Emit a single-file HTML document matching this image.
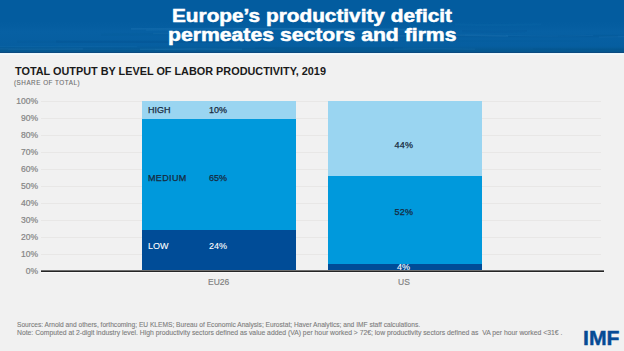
<!DOCTYPE html>
<html><head><meta charset="utf-8">
<style>
*{margin:0;padding:0;box-sizing:border-box}
html,body{width:624px;height:351px;overflow:hidden;background:#f1f1f1;font-family:"Liberation Sans",sans-serif}
.abs{position:absolute;white-space:nowrap}
#hdr{position:absolute;left:0;top:0;width:624px;height:53px;background:linear-gradient(to bottom,#035c9f 0,#035c9f 22px,#0760a3 32px,#065ea0 46px,#05578f 51px)}
#hdrline{position:absolute;left:0;top:52px;width:624px;height:1px;background:#0b4a80}
#hdrlight{position:absolute;left:0;top:53px;width:624px;height:2px;background:linear-gradient(#eaf7fc,#f6f9fa)}
.t1{color:#fff;font-weight:bold;-webkit-text-stroke:0.5px #fff;font-size:18px;line-height:18px;transform-origin:0 0}
#ctitle{left:15px;top:65px;font-size:10.86px;font-weight:bold;color:#1a1a1a}
#csub{left:14px;top:78.5px;font-size:6.3px;color:#6e6e6e;-webkit-text-stroke:0.1px #6e6e6e;letter-spacing:0.52px}
.yl{right:586px;font-size:8.5px;color:#858585;-webkit-text-stroke:0.2px #858585;text-align:right}
.grid{position:absolute;left:41px;width:560px;height:1px;background:#e8e7e6}
#axis{position:absolute;left:41px;top:270px;width:563px;height:2px;background:linear-gradient(#707070 0,#707070 1px,#262626 1px)}
#axisl{position:absolute;left:41px;top:272px;width:563px;height:1px;background:#fafafa}
.seg{position:absolute}
.lab{font-size:9px;color:#172a40;-webkit-text-stroke:0.25px #172a40}
.labw{font-size:9px;color:#fff;-webkit-text-stroke:0.1px #fff}
.xl{font-size:8.5px;color:#808080;-webkit-text-stroke:0.15px #808080}
.foot{left:17px;color:#7c7c7c;-webkit-text-stroke:0.1px #7c7c7c}
#imf{left:583px;top:327px;font-size:20px;font-weight:bold;color:#064b95;-webkit-text-stroke:0.4px #064b95;transform:scaleX(1.06);transform-origin:0 0}
</style></head><body>
<div id="hdr"></div>
<svg id="tex" width="624" height="53" style="position:absolute;left:0;top:0"><path d="M304 30.2 Q363 28.4 423 30.2" stroke="#5fb0e8" stroke-width="1.6" stroke-opacity="0.10" fill="none"/><path d="M255 47.6 Q329 47.8 403 47.6" stroke="#02457e" stroke-width="1.1" stroke-opacity="0.11" fill="none"/><path d="M365 36.4 Q407 36.5 449 36.4" stroke="#02457e" stroke-width="1.7" stroke-opacity="0.12" fill="none"/><path d="M455 24.4 Q498 25.5 541 24.4" stroke="#3d97d6" stroke-width="2.1" stroke-opacity="0.05" fill="none"/><path d="M417 36.3 Q518 35.9 618 36.3" stroke="#02457e" stroke-width="1.8" stroke-opacity="0.12" fill="none"/><path d="M558 35.6 Q658 34.4 759 35.6" stroke="#02457e" stroke-width="0.9" stroke-opacity="0.06" fill="none"/><path d="M357 35.3 Q411 34.7 465 35.3" stroke="#02457e" stroke-width="1.5" stroke-opacity="0.08" fill="none"/><path d="M101 34.6 Q158 33.7 215 34.6" stroke="#02457e" stroke-width="2.1" stroke-opacity="0.05" fill="none"/><path d="M56 41.5 Q155 41.7 254 41.5" stroke="#02457e" stroke-width="2.2" stroke-opacity="0.12" fill="none"/><path d="M361 41.0 Q470 41.0 580 41.0" stroke="#02457e" stroke-width="1.2" stroke-opacity="0.06" fill="none"/><path d="M8 49.7 Q102 48.9 196 49.7" stroke="#3d97d6" stroke-width="1.4" stroke-opacity="0.06" fill="none"/><path d="M-21 46.7 Q58 46.0 137 46.7" stroke="#3d97d6" stroke-width="0.9" stroke-opacity="0.11" fill="none"/><path d="M599 37.1 Q654 35.3 709 37.1" stroke="#5fb0e8" stroke-width="0.9" stroke-opacity="0.10" fill="none"/><path d="M140 49.3 Q191 48.6 242 49.3" stroke="#3d97d6" stroke-width="1.8" stroke-opacity="0.13" fill="none"/><path d="M533 48.9 Q593 49.5 653 48.9" stroke="#02457e" stroke-width="1.4" stroke-opacity="0.09" fill="none"/><path d="M17 41.7 Q125 42.2 232 41.7" stroke="#02457e" stroke-width="1.9" stroke-opacity="0.07" fill="none"/><path d="M146 30.2 Q254 28.2 362 30.2" stroke="#3d97d6" stroke-width="1.5" stroke-opacity="0.09" fill="none"/><path d="M155 49.7 Q215 50.2 275 49.7" stroke="#3d97d6" stroke-width="1.6" stroke-opacity="0.06" fill="none"/><path d="M392 36.1 Q450 34.2 508 36.1" stroke="#5fb0e8" stroke-width="1.8" stroke-opacity="0.11" fill="none"/><path d="M-36 48.8 Q23 49.2 83 48.8" stroke="#5fb0e8" stroke-width="1.7" stroke-opacity="0.07" fill="none"/><path d="M153 33.5 Q213 33.0 272 33.5" stroke="#5fb0e8" stroke-width="1.6" stroke-opacity="0.07" fill="none"/><path d="M394 49.3 Q435 48.3 475 49.3" stroke="#3d97d6" stroke-width="1.5" stroke-opacity="0.10" fill="none"/><path d="M233 28.9 Q319 28.2 405 28.9" stroke="#5fb0e8" stroke-width="0.9" stroke-opacity="0.08" fill="none"/><path d="M506 35.4 Q550 36.9 593 35.4" stroke="#3d97d6" stroke-width="1.3" stroke-opacity="0.10" fill="none"/><path d="M462 31.0 Q494 32.4 527 31.0" stroke="#02457e" stroke-width="2.1" stroke-opacity="0.08" fill="none"/><path d="M131 28.8 Q226 28.2 320 28.8" stroke="#5fb0e8" stroke-width="1.7" stroke-opacity="0.11" fill="none"/></svg>
<div id="hdrline"></div>
<div id="hdrlight"></div>
<div id="l1" class="abs t1" style="left:172px;top:7px;transform:scaleX(1.155)">Europe’s productivity deficit</div>
<div id="l2" class="abs t1" style="left:168px;top:25.5px;transform:scaleX(1.177)">permeates sectors and firms</div>

<div id="ctitle" class="abs">TOTAL OUTPUT BY LEVEL OF LABOR PRODUCTIVITY, 2019</div>
<div id="csub" class="abs">(SHARE OF TOTAL)</div>

<div class="grid" style="top:101px"></div>
<div class="grid" style="top:118px"></div>
<div class="grid" style="top:135px"></div>
<div class="grid" style="top:152px"></div>
<div class="grid" style="top:169px"></div>
<div class="grid" style="top:186px"></div>
<div class="grid" style="top:203px"></div>
<div class="grid" style="top:220px"></div>
<div class="grid" style="top:237px"></div>
<div class="grid" style="top:254px"></div>

<div class="abs yl" style="top:96px">100%</div>
<div class="abs yl" style="top:113px">90%</div>
<div class="abs yl" style="top:130px">80%</div>
<div class="abs yl" style="top:147px">70%</div>
<div class="abs yl" style="top:164px">60%</div>
<div class="abs yl" style="top:181px">50%</div>
<div class="abs yl" style="top:198px">40%</div>
<div class="abs yl" style="top:215px">30%</div>
<div class="abs yl" style="top:232px">20%</div>
<div class="abs yl" style="top:249px">10%</div>
<div class="abs yl" style="top:266px">0%</div>

<!-- EU26 -->
<div class="seg" style="left:142px;top:101px;width:154px;height:18px;background:#9ad5f1"></div>
<div class="seg" style="left:142px;top:119px;width:154px;height:111px;background:#0099dc"></div>
<div class="seg" style="left:142px;top:230px;width:154px;height:41px;background:#004c97"></div>
<!-- US -->
<div class="seg" style="left:328px;top:101px;width:154px;height:75px;background:#9ad5f1"></div>
<div class="seg" style="left:328px;top:176px;width:154px;height:88px;background:#0099dc"></div>
<div class="seg" style="left:328px;top:264px;width:154px;height:7px;background:#004c97"></div>

<div id="axis"></div><div id="axisl"></div>

<div class="abs lab" style="left:148px;top:105px">HIGH</div>
<div class="abs lab" style="left:209px;top:105px">10%</div>
<div class="abs lab" style="left:148px;top:173px;letter-spacing:0.35px">MEDIUM</div>
<div class="abs lab" style="left:209px;top:173px">65%</div>
<div class="abs labw" style="left:148px;top:241px">LOW</div>
<div class="abs labw" style="left:209px;top:241px">24%</div>

<div class="abs lab" style="left:394.5px;top:140px;letter-spacing:0.2px">44%</div>
<div class="abs lab" style="left:394.5px;top:207px;letter-spacing:0.2px">52%</div>
<div class="abs labw" style="left:397px;top:262px">4%</div>

<div class="abs xl" style="left:208px;top:277px">EU26</div>
<div class="abs xl" style="left:398px;top:277px">US</div>

<div class="abs foot" style="top:321px;font-size:6.63px">Sources: Arnold and others, forthcoming; EU KLEMS; Bureau of Economic Analysis; Eurostat; Haver Analytics; and IMF staff calculations.</div>
<div class="abs foot" style="top:329px;font-size:6.8px">Note: Computed at 2-digit industry level. High productivity sectors defined as value added (VA) per hour worked &gt; 72€; low productivity sectors defined as &nbsp;VA per hour worked &lt;31€ .</div>

<div id="imf" class="abs">IMF</div>
</body></html>
